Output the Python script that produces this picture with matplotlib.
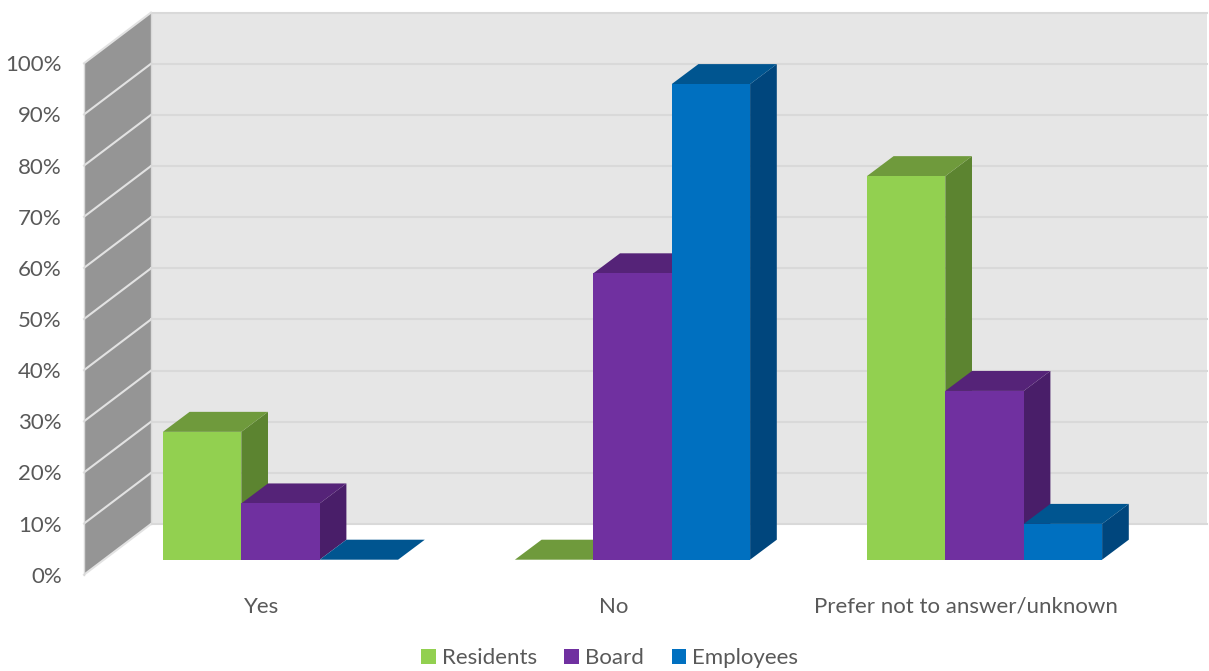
import matplotlib
matplotlib.use("Agg")
import matplotlib.pyplot as plt
from matplotlib.patches import Polygon
from matplotlib.transforms import ScaledTranslation

categories = ["Yes", "No", "Prefer not to answer/unknown"]
residents = [25, 0, 75]
board = [11, 56, 33]
employees = [0, 93, 7]
y_ticks = list(range(0, 101, 10))

# name, values, front, top, side
series = [
    ("Residents", residents, "#92D050", "#6F9A3C", "#5C8430"),
    ("Board", board, "#7030A0", "#552378", "#491E69"),
    ("Employees", employees, "#0070C0", "#005590", "#00467D"),
]

W, H = 1209, 671
plt.rcParams["font.family"] = ["Lato", "DejaVu Sans"]
TEXT = "#595959"
FS = 16

fig = plt.figure(figsize=(W / 100, H / 100), dpi=100)
# axes = front plane of the 3d box, everything else is offset from it
ax = fig.add_axes([84 / W, (H - 574.7) / H, 1056 / W, 511.4 / H])
ax.set_xlim(-0.5, 2.5)
ax.set_ylim(0, 100)

# 3d offsets, converted from pixels to data units
px_x = 3 / 1056
px_y = 100 / 511.4
wall_dx, wall_dy = 67 * px_x, 50.7 * px_y
bar_dx, bar_dy = 26.7 * px_x, 20 * px_y
floor_dx, floor_dy = 20.5 * px_x, 15 * px_y
bar_w = 78.4 * px_x

x0, x1 = -0.5, 2.5
ax.add_patch(Polygon([(x0 + wall_dx, wall_dy), (x1 + wall_dx, wall_dy),
                      (x1 + wall_dx, 100 + wall_dy), (x0 + wall_dx, 100 + wall_dy)],
                     fc="#E6E6E6", ec="none", clip_on=False, zorder=1))
ax.add_patch(Polygon([(x0, 0), (x0 + wall_dx, wall_dy),
                      (x0 + wall_dx, 100 + wall_dy), (x0, 100)],
                     fc="#959595", ec="none", clip_on=False, zorder=1))
for t in y_ticks:
    ax.plot([x0 + wall_dx, x1 + wall_dx], [t + wall_dy, t + wall_dy],
            color="#D9D9D9", lw=1.5, clip_on=False, zorder=2)
    ax.plot([x0, x0 + wall_dx], [t, t + wall_dy],
            color="#E2E2E2", lw=1.5, clip_on=False, zorder=2)
ax.plot([x0 + wall_dx, x0 + wall_dx], [wall_dy, 100 + wall_dy],
        color="#D9D9D9", lw=1, clip_on=False, zorder=2)
ax.plot([x0, x0], [0, 100], color="#D9D9D9", lw=1, clip_on=False, zorder=2)

z = 3
for i, (name, values, front, top, side) in enumerate(series):
    for c, v in enumerate(values):
        left = c + floor_dx + (i - 1.5) * bar_w
        right = left + bar_w
        base = floor_dy
        up = base + v
        ax.add_patch(Polygon([(right, base), (right + bar_dx, base + bar_dy),
                              (right + bar_dx, up + bar_dy), (right, up)],
                             fc=side, ec="none", clip_on=False, zorder=z))
        ax.add_patch(Polygon([(left, up), (right, up),
                              (right + bar_dx, up + bar_dy), (left + bar_dx, up + bar_dy)],
                             fc=top, ec="none", clip_on=False, zorder=z))
        ax.bar(left, v, width=bar_w, bottom=base, align="edge", color=front,
               clip_on=False, zorder=z, label=name if c == 0 else None)
        z += 1

ax.set_yticks(y_ticks)
ax.set_yticklabels([f"{t}%" for t in y_ticks])
# y labels sit slightly lower than the gridline ends in the original
nudge = ScaledTranslation(0, -1.5 / 100, fig.dpi_scale_trans)
for lab in ax.get_yticklabels():
    lab.set_transform(lab.get_transform() + nudge)
# x labels sit about 2px right of the category centre
ax.set_xticks([c + 2 * px_x for c in range(len(categories))])
ax.set_xticklabels(categories)
ax.tick_params(axis="y", length=0, pad=16, labelsize=FS, labelcolor=TEXT)
ax.tick_params(axis="x", length=0, pad=16, labelsize=FS, labelcolor=TEXT)
for s in ax.spines.values():
    s.set_visible(False)
ax.patch.set_visible(False)

ax.legend(loc="center", bbox_to_anchor=(609.5 / W, (H - 658) / H),
          bbox_transform=fig.transFigure, ncol=3, frameon=False, fontsize=FS,
          labelcolor=TEXT, handlelength=0.65, handleheight=0.65,
          handletextpad=0.27, columnspacing=1.25, borderpad=0)

fig.savefig("out.png", dpi=100)
